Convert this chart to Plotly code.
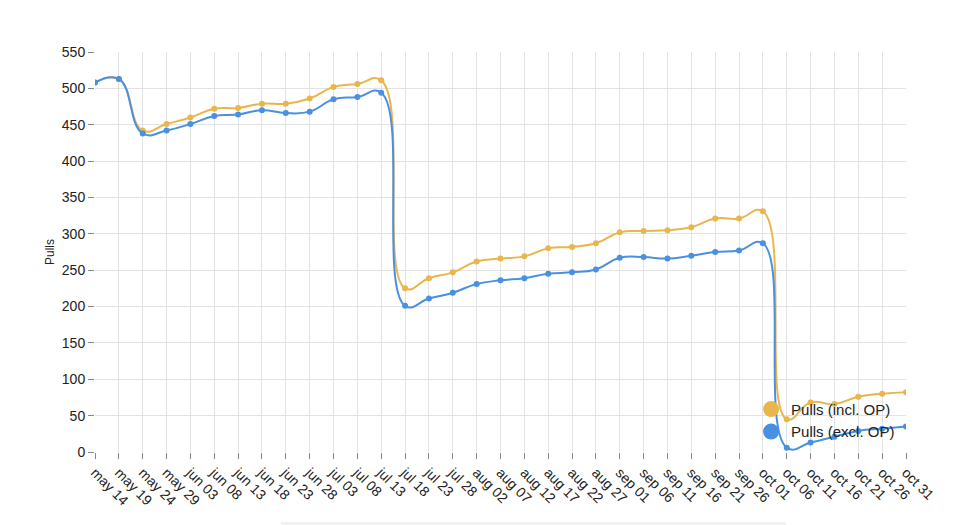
import plotly.graph_objects as go

ORANGE = "#e8b64c"
BLUE = "#4a90e2"

dates = [
    "may 14", "may 19", "may 24", "may 29", "jun 03", "jun 08", "jun 13",
    "jun 18", "jun 23", "jun 28", "jul 03", "jul 08", "jul 13", "jul 18",
    "jul 23", "jul 28", "aug 02", "aug 07", "aug 12", "aug 17", "aug 22",
    "aug 27", "sep 01", "sep 06", "sep 11", "sep 16", "sep 21", "sep 26",
    "oct 01", "oct 06", "oct 11", "oct 16", "oct 21", "oct 26", "oct 31",
]

pulls_incl_op = [
    508, 513, 442, 451, 460, 472, 473, 479, 479, 486, 502, 506, 511, 225,
    239, 247, 262, 266, 269, 280, 282, 287, 302, 304, 305, 309, 321, 321,
    331, 45, 68, 66, 76, 80, 82,
]

pulls_excl_op = [
    508, 513, 438, 442, 451, 462, 464, 470, 466, 468, 485, 488, 494, 201,
    211, 219, 231, 236, 239, 245, 247, 251, 267, 268, 266, 270, 275, 277,
    287, 6, 13, 21, 29, 32, 35,
]

fig = go.Figure()

for name, values, color in [
    ("Pulls (incl. OP)", pulls_incl_op, ORANGE),
    ("Pulls (excl. OP)", pulls_excl_op, BLUE),
]:
    fig.add_trace(go.Scatter(
        x=dates, y=values, name=name,
        mode="lines+markers",
        line=dict(color=color, width=2, shape="spline", smoothing=1.3),
        marker=dict(color=color, size=6),
        showlegend=False,
    ))

# legend entries drawn as plain circles
for name, color in [("Pulls (incl. OP)", ORANGE), ("Pulls (excl. OP)", BLUE)]:
    fig.add_trace(go.Scatter(
        x=[None], y=[None], name=name, mode="markers",
        marker=dict(color=color, size=16),
    ))

fig.update_layout(
    width=969, height=517,
    margin=dict(l=87, r=71, t=44, b=73),
    paper_bgcolor="white",
    plot_bgcolor="white",
    font=dict(family="Liberation Sans, Arial, sans-serif", color="#222", size=14),
    legend=dict(
        x=0.809, y=0.148, xanchor="left", yanchor="top",
        bgcolor="rgba(0,0,0,0)",
        font=dict(size=15, color="#222"),
        itemsizing="trace",
        tracegroupgap=0,
    ),
    shapes=[dict(
        type="rect", xref="paper", yref="paper",
        x0=0.229, x1=0.852, y0=-0.175, y1=-0.2,
        fillcolor="#f2f2f2", line=dict(width=0), layer="below",
    )],
)

fig.update_xaxes(
    type="category",
    range=[0, len(dates) - 1],
    tickangle=45,
    showgrid=True, gridcolor="#e3e3e3", gridwidth=1,
    ticks="outside", ticklen=6, tickcolor="#888",
    tickfont=dict(size=14),
    showline=False, zeroline=False,
)

fig.update_yaxes(
    range=[0, 550],
    dtick=50,
    showgrid=True, gridcolor="#e3e3e3", gridwidth=1,
    ticks="outside", ticklen=6, tickcolor="#888",
    tickfont=dict(size=14),
    title=dict(text="Pulls", font=dict(size=12), standoff=4),
    showline=False, zeroline=False,
)

fig.write_html("out.html")
